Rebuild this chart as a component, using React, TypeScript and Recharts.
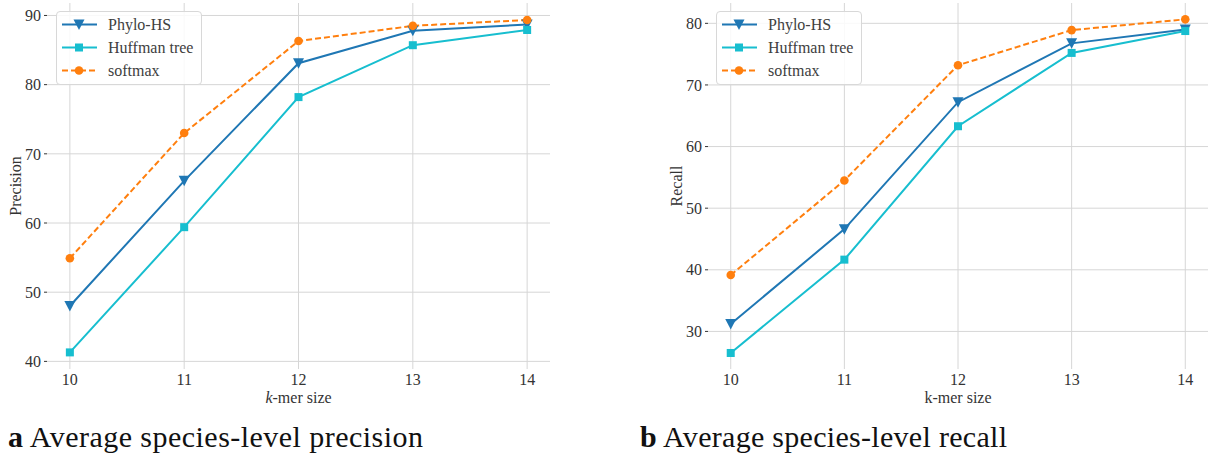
import { LineChart, Line, XAxis, YAxis, CartesianGrid, Legend } from "recharts";

const kmerSizes = [10, 11, 12, 13, 14];

const precisionPhyloHS = [48.0, 66.1, 83.1, 87.8, 88.7];
const precisionHuffman = [41.3, 59.4, 78.2, 85.7, 87.9];
const precisionSoftmax = [54.9, 73.0, 86.3, 88.5, 89.35];

const recallPhyloHS = [31.2, 46.6, 67.2, 76.75, 79.0];
const recallHuffman = [26.5, 41.65, 63.3, 75.2, 78.75];
const recallSoftmax = [39.15, 54.5, 73.2, 78.9, 80.65];

const precisionTicks = [40, 50, 60, 70, 80, 90];
const recallTicks = [30, 40, 50, 60, 70, 80];

const FONT = 'Liberation Serif, "Times New Roman", Times, serif';

const series = [
  { key: "phylo", name: "Phylo-HS", color: "#1f77b4", marker: "triangle", dash: undefined },
  { key: "huffman", name: "Huffman tree", color: "#17becf", marker: "square", dash: undefined },
  { key: "softmax", name: "softmax", color: "#ff7f0e", marker: "circle", dash: "6 3" },
];

const precisionData = kmerSizes.map((k, i) => ({
  k,
  phylo: precisionPhyloHS[i],
  huffman: precisionHuffman[i],
  softmax: precisionSoftmax[i],
}));

const recallData = kmerSizes.map((k, i) => ({
  k,
  phylo: recallPhyloHS[i],
  huffman: recallHuffman[i],
  softmax: recallSoftmax[i],
}));

function Marker({ type, cx, cy, color }: { type: string; cx: number; cy: number; color: string }) {
  if (cx == null || cy == null) return null;
  if (type === "triangle") {
    return (
      <polygon
        points={`${cx - 5.5},${cy - 5} ${cx + 5.5},${cy - 5} ${cx},${cy + 5.5}`}
        fill={color}
      />
    );
  }
  if (type === "square") {
    return <rect x={cx - 4} y={cy - 4} width={8} height={8} fill={color} />;
  }
  return <circle cx={cx} cy={cy} r={4.3} fill={color} />;
}

function LegendBox() {
  return (
    <div
      style={{
        boxSizing: "border-box",
        width: 146,
        height: 74,
        border: "1px solid #d8d8d8",
        borderRadius: 4,
        background: "rgba(255,255,255,0.85)",
        paddingTop: 1,
        fontFamily: FONT,
        fontSize: 16,
        color: "#404040",
      }}
    >
      {series.map((s) => (
        <div key={s.key} style={{ display: "flex", alignItems: "center", height: 23 }}>
          <svg width={51} height={23} style={{ flexShrink: 0 }}>
            <line x1={5} x2={40} y1={11.5} y2={11.5} stroke={s.color} strokeWidth={2} strokeDasharray={s.dash} />
            <Marker type={s.marker} cx={22} cy={11.5} color={s.color} />
          </svg>
          <span style={{ whiteSpace: "nowrap" }}>{s.name}</span>
        </div>
      ))}
    </div>
  );
}

interface PanelProps {
  data: { k: number; phylo: number; huffman: number; softmax: number }[];
  left: number;
  width: number;
  marginLeft: number;
  marginRight: number;
  yDomain: [number, number];
  yTicks: number[];
  yLabel: string;
  italicK: boolean;
  legendLeft: number;
}

function Panel({ data, left, width, marginLeft, marginRight, yDomain, yTicks, yLabel, italicK, legendLeft }: PanelProps) {
  const tickStyle = { fill: "#333", fontSize: 16, fontFamily: FONT };
  return (
    <div style={{ position: "absolute", left, top: 0 }}>
      <LineChart
        width={width}
        height={412}
        data={data}
        margin={{ top: 3, right: marginRight, left: marginLeft, bottom: 12 }}
      >
        <CartesianGrid stroke="#d6d6d6" strokeWidth={1} syncWithTicks />
        <XAxis
          dataKey="k"
          type="number"
          domain={[9.8, 14.2]}
          ticks={kmerSizes}
          axisLine={false}
          tickLine={false}
          tickSize={0}
          tickMargin={5}
          height={31}
          tick={tickStyle}
          label={(p: any) => {
            const vb = p.viewBox || {};
            return (
              <text
                x={vb.x + vb.width / 2}
                y={403}
                textAnchor="middle"
                fontFamily={FONT}
                fontSize={16}
                fill="#333"
              >
                {italicK ? <tspan fontStyle="italic">k</tspan> : "k"}
                -mer size
              </text>
            );
          }}
        />
        <YAxis
          type="number"
          domain={yDomain}
          ticks={yTicks}
          allowDataOverflow
          axisLine={false}
          tickLine={{ stroke: "#333", strokeWidth: 1 }}
          tickSize={3}
          tickMargin={3}
          width={47}
          tick={tickStyle}
          label={(p: any) => {
            const vb = p.viewBox || {};
            const x = vb.x + 21;
            const y = vb.y + vb.height / 2;
            return (
              <text
                transform={`translate(${x},${y}) rotate(-90)`}
                textAnchor="middle"
                fontFamily={FONT}
                fontSize={16}
                fill="#333"
              >
                {yLabel}
              </text>
            );
          }}
        />
        {series.map((s) => (
          <Line
            key={s.key}
            type="linear"
            dataKey={s.key}
            name={s.name}
            stroke={s.color}
            strokeWidth={2}
            strokeDasharray={s.dash}
            isAnimationActive={false}
            dot={(p: any) => (
              <Marker key={`${s.key}-${p.index}`} type={s.marker} cx={p.cx} cy={p.cy} color={s.color} />
            )}
            activeDot={false}
          />
        ))}
        <Legend
          verticalAlign="middle"
          align="center"
          layout="vertical"
          wrapperStyle={{ left: legendLeft, top: 11, width: 146 }}
          content={() => <LegendBox />}
        />
      </LineChart>
    </div>
  );
}

export default function App() {
  return (
    <div
      style={{
        position: "absolute",
        left: 0,
        top: 0,
        width: 1208,
        height: 454,
        background: "#fff",
        fontFamily: FONT,
        overflow: "hidden",
      }}
    >
      <Panel
        data={precisionData}
        left={0}
        width={560}
        marginLeft={0}
        marginRight={10}
        yDomain={[38.9, 91.8]}
        yTicks={precisionTicks}
        yLabel="Precision"
        italicK={true}
        legendLeft={56}
      />
      <Panel
        data={recallData}
        left={600}
        width={608}
        marginLeft={61}
        marginRight={0}
        yDomain={[23.9, 83.3]}
        yTicks={recallTicks}
        yLabel="Recall"
        italicK={false}
        legendLeft={116}
      />
      <svg width={1208} height={454} style={{ position: "absolute", left: 0, top: 0, pointerEvents: "none" }}>
        <text x={8} y={447} fontFamily={FONT} fontSize={30} fill="#111" textLength={415} lengthAdjust="spacing">
          <tspan fontWeight="bold">a</tspan> Average species-level precision
        </text>
        <text x={640} y={447} fontFamily={FONT} fontSize={30} fill="#111" textLength={367} lengthAdjust="spacing">
          <tspan fontWeight="bold">b</tspan> Average species-level recall
        </text>
      </svg>
    </div>
  );
}
